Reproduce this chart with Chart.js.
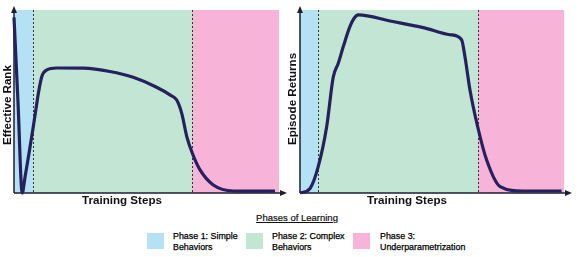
<!DOCTYPE html>
<html>
<head>
<meta charset="utf-8">
<script src="https://cdn.jsdelivr.net/npm/chart.js@4/dist/chart.umd.min.js"></script>
<style>
  html, body { margin: 0; padding: 0; background: #fff; }
  body { width: 581px; height: 257px; position: relative; overflow: hidden;
         font-family: "Liberation Sans", Arial, sans-serif; }
  canvas { position: absolute; top: 0; }
  #rankChart { left: 0; }
  #returnChart { left: 287px; }
  .legend-title { position: absolute; left: 247px; top: 212px; width: 100px; text-align: center;
                  font-size: 9.5px; color: #111; text-decoration: underline; -webkit-text-stroke: 0.2px #111; }
  .legend-box { position: absolute; width: 17px; height: 16px; top: 233px; }
  .legend-text { position: absolute; top: 231px; font-size: 8.9px; line-height: 10.5px; color: #000;
                 -webkit-text-stroke: 0.25px #000; }
</style>
</head>
<body>
<canvas id="rankChart" width="287" height="208"></canvas>
<canvas id="returnChart" width="294" height="208"></canvas>

<div class="legend-title">Phases of Learning</div>
<div class="legend-box" style="left:147px;background:#b4e1f4"></div>
<div class="legend-text" style="left:173px">Phase 1: Simple<br>Behaviors</div>
<div class="legend-box" style="left:246px;background:#c3e6d4"></div>
<div class="legend-text" style="left:272px">Phase 2: Complex<br>Behaviors</div>
<div class="legend-box" style="left:353px;background:#f7b3d8"></div>
<div class="legend-text" style="left:380px">Phase 3:<br>Underparametrization</div>

<script>
// phase colours
const phaseColors = ["#b4e1f4", "#c3e6d4", "#f7b3d8"];

// effective rank curve (x = training progress 0..100, y = relative value 0..100)
const rankSteps = [0, 1.5, 3.1, 4.2, 5.7, 7.2, 8.3, 9.2, 10.5, 12.3, 16.1, 26.2, 36.2, 45, 53.8, 59, 61.4, 63.3, 65.2, 67.3, 70.2, 75.2, 82.8, 90, 98.5];
const rankValues = [96, 50, 0, 9, 22, 35.5, 46, 54.5, 63.6, 67.2, 68.3, 68.2, 66.4, 63.2, 57.8, 53.5, 50.8, 43.5, 30.8, 21.7, 12.6, 4.4, 1.1, 1, 1.1];
const rankPhaseEdges = [0, 7.2, 67.2, 100];

// episode returns curve
const returnSteps = [0, 3.8, 6.9, 10.1, 12.6, 14.5, 16.4, 18.9, 20.5, 22.1, 34.1, 46.7, 56.8, 61.2, 62.5, 64.4, 67.3, 70.7, 75.8, 84.6, 99.1];
const returnValues = [0, 2.5, 14.4, 36.2, 63.4, 70.9, 80, 90.9, 95.5, 97.3, 94, 90.4, 86.5, 83.8, 74.3, 56.1, 36.2, 18, 3.5, 1.1, 1.1];
const returnPhaseEdges = [0, 6.8, 67.4, 100];

const LINE_COLOR = "#25215e";
const AXIS_COLOR = "#1e1e33";
const FONT = "'Liberation Sans', Arial, sans-serif";

function phasePlugin(edges, labels) {
  return {
    id: "phases",
    beforeDatasetsDraw(chart) {
      const { ctx, chartArea: a, scales: { x } } = chart;
      ctx.save();
      // coloured phase bands
      for (let i = 0; i < edges.length - 1; i++) {
        const x0 = x.getPixelForValue(edges[i]);
        const x1 = x.getPixelForValue(edges[i + 1]);
        ctx.fillStyle = phaseColors[i];
        ctx.fillRect(x0, a.top, x1 - x0, a.bottom - a.top);
      }
      // dotted phase boundaries
      ctx.strokeStyle = "#333";
      ctx.lineWidth = 1;
      ctx.setLineDash([2, 2]);
      for (let i = 1; i < edges.length - 1; i++) {
        const px = Math.round(x.getPixelForValue(edges[i])) + 0.5;
        ctx.beginPath();
        ctx.moveTo(px, a.top);
        ctx.lineTo(px, a.bottom);
        ctx.stroke();
      }
      ctx.setLineDash([]);
      // axes with arrow heads
      ctx.strokeStyle = AXIS_COLOR;
      ctx.fillStyle = AXIS_COLOR;
      ctx.lineWidth = 1.5;
      ctx.beginPath();
      ctx.moveTo(a.left, a.bottom);
      ctx.lineTo(a.right + 3, a.bottom);
      ctx.moveTo(a.left, a.bottom);
      ctx.lineTo(a.left, a.top - 1);
      ctx.stroke();
      ctx.beginPath();
      ctx.moveTo(a.right + 8, a.bottom);
      ctx.lineTo(a.right + 1, a.bottom - 3);
      ctx.lineTo(a.right + 1, a.bottom + 3);
      ctx.closePath();
      ctx.fill();
      ctx.beginPath();
      ctx.moveTo(a.left, a.top - 4);
      ctx.lineTo(a.left - 3, a.top + 3);
      ctx.lineTo(a.left + 3, a.top + 3);
      ctx.closePath();
      ctx.fill();
      ctx.restore();
    },
    afterDraw(chart) {
      const { ctx } = chart;
      ctx.save();
      ctx.fillStyle = "#111";
      ctx.font = "bold 11.6px " + FONT;
      ctx.textBaseline = "middle";
      ctx.textAlign = "center";
      ctx.fillText(labels.x, labels.xPos, 201);
      ctx.translate(labels.yPos, 145);
      ctx.rotate(-Math.PI / 2);
      ctx.textAlign = "left";
      ctx.fillText(labels.y, 0, 0);
      ctx.restore();
    },
  };
}

function makeChart(id, steps, values, edges, labels, padding) {
  return new Chart(document.getElementById(id), {
    type: "line",
    data: {
      datasets: [
        {
          data: steps.map((s, i) => ({ x: s, y: values[i] })),
          borderColor: LINE_COLOR,
          borderWidth: 3.2,
          pointRadius: 0,
          cubicInterpolationMode: "monotone",
          fill: false,
          clip: false,
        },
      ],
    },
    options: {
      responsive: false,
      animation: false,
      events: [],
      layout: { padding },
      scales: {
        x: { type: "linear", min: 0, max: 100, display: false },
        y: { min: 0, max: 100, display: false },
      },
      plugins: { legend: { display: false }, tooltip: { enabled: false } },
    },
    plugins: [phasePlugin(edges, labels)],
  });
}

makeChart("rankChart", rankSteps, rankValues, rankPhaseEdges,
  { x: "Training Steps", y: "Effective Rank", xPos: 122, yPos: 7.5 },
  { left: 14, top: 10, right: 8, bottom: 15 });

makeChart("returnChart", returnSteps, returnValues, returnPhaseEdges,
  { x: "Training Steps", y: "Episode Returns", xPos: 120, yPos: 5.5 },
  { left: 13, top: 10, right: 17, bottom: 15 });
</script>
</body>
</html>
